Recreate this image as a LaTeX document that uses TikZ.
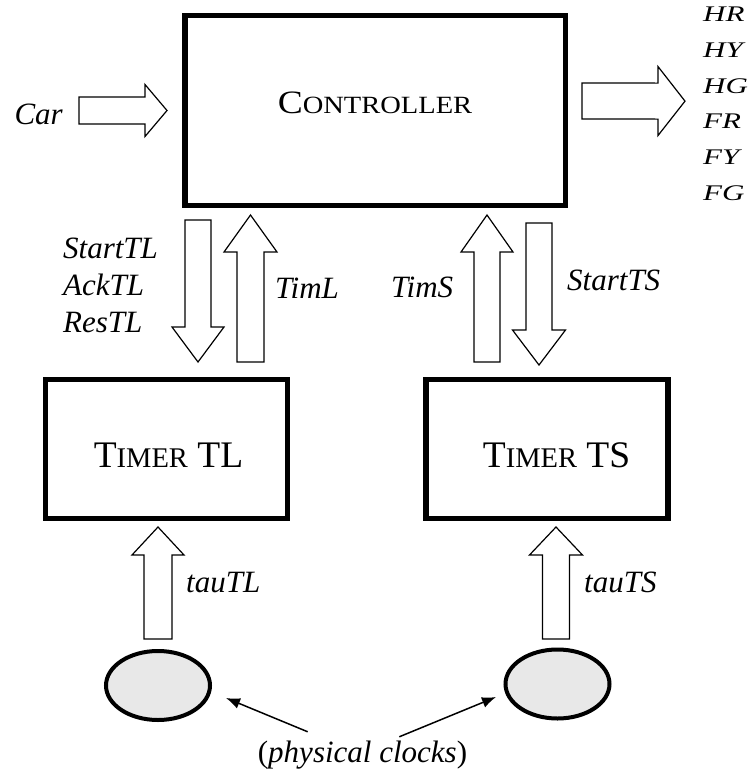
\documentclass[tikz,border=0pt]{standalone}
\usepackage{fontspec}
\setmainfont{Liberation Serif}
\usepackage{graphicx}
\usetikzlibrary{positioning, calc, shapes.geometric, arrows.meta}
\tikzset{>={Latex[length=14pt,width=11pt]}}
\tikzset{
  box/.style={draw, line width=5.5pt, minimum width=242pt, minimum height=139pt,
              inner sep=0pt, font=\fontsize{37.5}{40}\selectfont},
  clk/.style={ellipse, draw, line width=4pt, fill=black!9,
              minimum width=104pt, minimum height=69pt, inner sep=0pt},
  lbl/.style={inner sep=0pt, font=\fontsize{31}{37}\selectfont\itshape},
  ptr/.style={->, line width=1.5pt},
  fat shaft/.store in=\fatshaft, fat head/.store in=\fathead, fat len/.store in=\fatlen,
  fat shaft=13pt, fat head=26pt, fat len=36pt,
  fat/.style={line width=1.2pt, to path={
    let \p1=(\tikztostart), \p2=(\tikztotarget),
        \n1={atan2(\y2-\y1,\x2-\x1)}, \n2={veclen(\x2-\x1,\y2-\y1)} in
    ([shift={(\p1)},rotate=\n1]0pt,-\fatshaft)
    -- ([shift={(\p1)},rotate=\n1]\n2-\fatlen,-\fatshaft)
    -- ([shift={(\p1)},rotate=\n1]\n2-\fatlen,-\fathead)
    -- ([shift={(\p1)},rotate=\n1]\n2,0pt)
    -- ([shift={(\p1)},rotate=\n1]\n2-\fatlen,\fathead)
    -- ([shift={(\p1)},rotate=\n1]\n2-\fatlen,\fatshaft)
    -- ([shift={(\p1)},rotate=\n1]0pt,\fatshaft) -- cycle}}
}
\newcommand{\smc}[1]{{\fontsize{28.5}{30}\selectfont #1}}

\begin{document}
\begin{tikzpicture}[x=1pt, y=-1pt]
\useasboundingbox (0,0) rectangle (754,774);

% Blocks
\node[box, minimum width=380.5pt, minimum height=190pt, text height=5.6pt, text depth=0pt]
  (ctrl) at (375,110.5) {\scalebox{1}[.87]{C\smc{ONTROLLER}}};
\node[box, text height=36pt, text depth=0pt] (tl) at (166.5,449) {\hspace*{4pt}T\smc{IMER} TL};
\node[box, text height=36pt, text depth=0pt] (ts) at (547,449) {\hspace*{19pt}T\smc{IMER} TS};

% Clocks
\node[clk] (clkL) at (158,685.5) {};
\node[clk] (clkS) at (557.5,684) {};

% Signal names
\node[lbl, left=119pt of ctrl.west, yshift=-3.5pt] (car) {Car};
\node[lbl, anchor=base west, yscale=.72, transform shape] (lights) at (703,21.7)
  {\fontsize{31}{49.6}\selectfont\itshape
   \begin{tabular}[t]{@{}l@{}}HR\\HY\\HG\\FR\\FY\\FG\end{tabular}};
\node[lbl, anchor=base west] (sigL) at (63,258)
  {\begin{tabular}[t]{@{}l@{}}StartTL\\AckTL\\ResTL\end{tabular}};
\node[lbl, anchor=base west] (timL) at (275,298) {TimL};
\node[lbl, anchor=base west] (timS) at (391,297) {TimS};
\node[lbl, anchor=base west] (startS) at (567,290) {StartTS};
\node[lbl, anchor=base west] (tauL) at (186,592) {tauTL};
\node[lbl, anchor=base west] (tauS) at (584,592) {tauTS};
\node[lbl, anchor=base, font=\fontsize{31}{37}\selectfont] (phys) at (362.5,762)
  {(\textit{physical clocks})};

% Block arrows
\draw[fat, fat shaft=13.5pt, fat len=22pt] ([xshift=16pt,yshift=3.5pt]car.east) to ([xshift=-15pt]ctrl.west);
\draw[fat, fat shaft=18pt, fat head=34.5pt, fat len=27pt] ([xshift=14pt,yshift=9.5pt]ctrl.east)
  to ([xshift=-18pt,yshift=2.7pt]lights.west);
\draw[fat, fat len=35pt] ([xshift=16pt,yshift=-11.75pt]ctrl.south west) to ([xshift=31.5pt,yshift=14.75pt]tl.north);
\draw[fat, fat shaft=13.5pt, fat head=26.5pt, fat len=37pt] ([xshift=84pt,yshift=14.75pt]tl.north)
  to ([xshift=68.5pt,yshift=-6.75pt]ctrl.south west);
\draw[fat, fat len=37pt] ([xshift=-60pt,yshift=14.75pt]ts.north) to ([xshift=-81pt,yshift=-6.75pt]ctrl.south east);
\draw[fat, fat head=26.5pt, fat len=35pt] ([xshift=-29pt,yshift=-14.75pt]ctrl.south east)
  to ([xshift=-8pt,yshift=11.75pt]ts.north);
\draw[fat, fat shaft=14pt, fat len=28pt] ([yshift=10pt]clkL.north) to ([xshift=-8.5pt,yshift=-5.75pt]tl.south);
\draw[fat, fat shaft=13.5pt, fat head=26.5pt, fat len=28pt] ([xshift=-1.5pt,yshift=8.5pt]clkS.north)
  to ([xshift=9pt,yshift=-5.75pt]ts.south);

% Pointers to the clocks
\draw[ptr] ([xshift=50pt,yshift=8.5pt]phys.north west) -- ([xshift=14pt,yshift=-12.5pt]clkL.east);
\draw[ptr] ([xshift=-68pt,yshift=3.5pt]phys.north east) -- ([xshift=-7.5pt,yshift=-13pt]clkS.west);

\end{tikzpicture}
\end{document}
